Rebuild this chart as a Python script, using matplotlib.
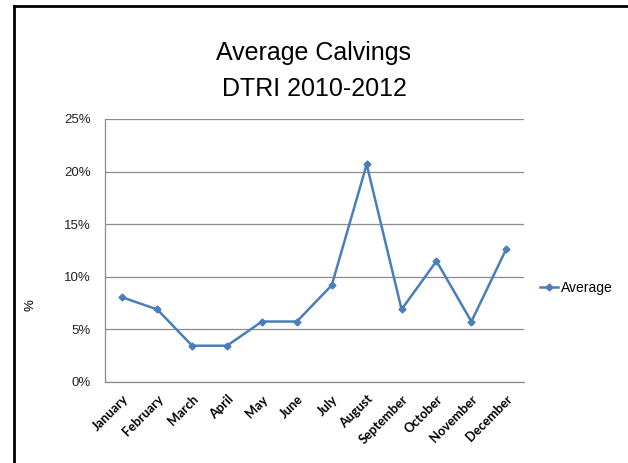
import matplotlib
matplotlib.use("Agg")
import matplotlib.pyplot as plt
from matplotlib.lines import Line2D
from matplotlib.ticker import PercentFormatter

months = ["January", "February", "March", "April", "May", "June", "July",
          "August", "September", "October", "November", "December"]
calvings = [7, 6, 3, 3, 5, 5, 8, 18, 6, 10, 5, 11]
total = sum(calvings)
average_pct = [100.0 * c / total for c in calvings]
y_ticks = [0, 5, 10, 15, 20, 25]

line_color = "#4a7ebb"
grid_color = "#8c8c8c"

fig = plt.figure(figsize=(6.28, 4.63), dpi=100)
ax = fig.add_axes([0.167, 0.175, 0.667, 0.568])

x = list(range(len(months)))
ax.plot(x, average_pct, color=line_color, lw=1.8, marker="D", ms=3.5,
        markeredgecolor=line_color, markerfacecolor=line_color)

ax.set_xlim(-0.5, len(months) - 0.5)
ax.set_ylim(0, 25)
ax.set_yticks(y_ticks)
ax.yaxis.set_major_formatter(PercentFormatter(decimals=0))
ax.set_xticks(x)
ax.set_xticklabels(months, rotation=45, ha="right", rotation_mode="anchor",
                   fontsize=9.3, fontweight="bold", family="Lato")
ax.tick_params(axis="x", length=0, pad=8)
ax.tick_params(axis="y", length=0, pad=10, labelsize=9.5)
for lab in ax.get_yticklabels():
    lab.set_color("#222222")
    lab.set_family("Liberation Sans")

ax.grid(axis="y", color=grid_color, lw=0.9)
ax.set_axisbelow(True)
for side in ("top", "right"):
    ax.spines[side].set_visible(False)
for side in ("left", "bottom"):
    ax.spines[side].set_color(grid_color)
    ax.spines[side].set_linewidth(0.9)

fig.text(0.048, 0.341, "%", rotation=90, fontsize=9.5, ha="center", va="center",
         family="Liberation Sans")

fig.text(0.5, 0.885, "Average Calvings", fontsize=18, ha="center", va="center",
         family="Liberation Sans")
fig.text(0.5, 0.808, "DTRI 2010-2012", fontsize=18, ha="center", va="center",
         family="Liberation Sans")

handle = Line2D([], [], color=line_color, lw=1.8, marker="D", ms=3.5)
fig.legend([handle], ["Average"], loc="center left",
           bbox_to_anchor=(0.84, 0.378), frameon=False,
           handlelength=1.3, handletextpad=0.2,
           prop={"family": "Liberation Sans", "size": 10})

# frame around the chart area
fig.add_artist(Line2D([0.023, 0.023], [0.0, 0.987], color="black", lw=2,
                      transform=fig.transFigure))
fig.add_artist(Line2D([0.023, 1.0], [0.987, 0.987], color="black", lw=2,
                      transform=fig.transFigure))

fig.savefig("out.png", dpi=100)
